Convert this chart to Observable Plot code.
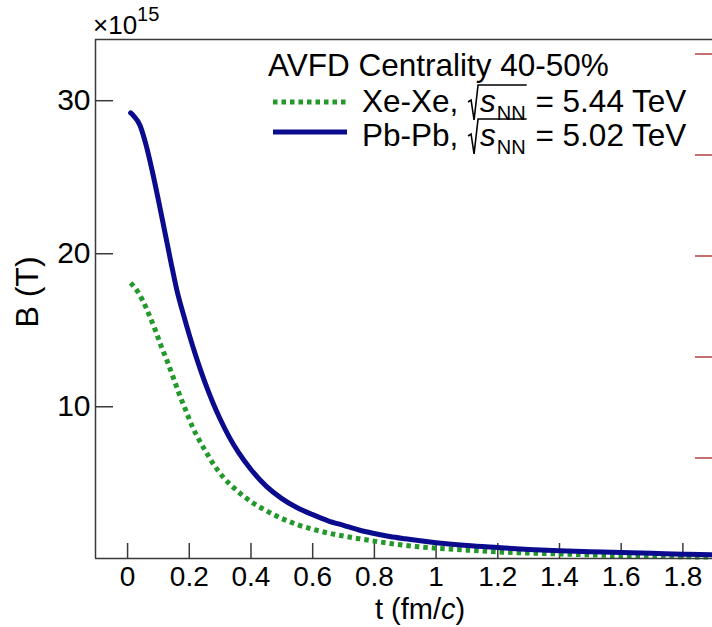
<!DOCTYPE html>
<html><head><meta charset="utf-8">
<script src="https://cdn.jsdelivr.net/npm/d3@7"></script>
<script src="https://cdn.jsdelivr.net/npm/@observablehq/plot@0.6"></script>
<style>
html,body{margin:0;padding:0;background:#fff;}
#chart{position:relative;width:712px;height:627px;overflow:hidden;}
</style></head><body><div id="chart"></div>
<script>
// ---- data (B in units of 1e15 T, t in fm/c) ----
const tPb = [0.01,0.02,0.04,0.06,0.08,0.10,0.12,0.14,0.16,0.18,0.20,0.22,0.24,0.26,0.28,0.30,0.33,0.36,0.40,0.45,0.50,0.55,0.60,0.65,0.70,0.75,0.80,0.85,0.90,1.00,1.10,1.20,1.30,1.40,1.50,1.60,1.70,1.80,1.90];
const bPb = [29.2,29.0,28.4,27.1,25.4,23.5,21.5,19.5,17.6,16.1,14.7,13.4,12.2,11.1,10.1,9.2,8.0,7.0,5.9,4.8,4.0,3.4,2.95,2.55,2.25,1.95,1.72,1.52,1.37,1.12,0.93,0.80,0.68,0.59,0.53,0.47,0.42,0.37,0.33];
const tXe = [0.01,0.03,0.05,0.07,0.09,0.11,0.13,0.15,0.17,0.19,0.21,0.23,0.25,0.28,0.31,0.35,0.40,0.45,0.50,0.55,0.60,0.65,0.70,0.75,0.80,0.90,1.00,1.10,1.20,1.30,1.40,1.50,1.60,1.70,1.80,1.90];
const bXe = [18.1,17.6,16.9,16.0,15.0,13.9,12.9,11.8,10.7,9.7,8.7,7.9,7.2,6.2,5.4,4.6,3.8,3.2,2.7,2.3,2.0,1.75,1.55,1.38,1.22,0.94,0.76,0.63,0.52,0.44,0.38,0.32,0.27,0.23,0.20,0.18];
const xTicks = [0,0.2,0.4,0.6,0.8,1.0,1.2,1.4,1.6,1.8];
const yTicks = [10,20,30];
const xDomain = [-0.104,1.896];
const yDomain = [0.085,34];
const legendTitle = "AVFD Centrality 40-50%";
const seriesLabels = [
  {sys:"Xe-Xe, ", energy:" = 5.44 TeV"},
  {sys:"Pb-Pb, ", energy:" = 5.02 TeV"}
];
const colXe = "#23982b", colPb = "#0b0b8e";

// ---- layout ----
const W=712, H=627, mL=95, mT=39, mB=69, mR=0;
const plotW = W-mL-mR, plotH = H-mT-mB;
const font = "'Liberation Sans', Arial, Helvetica, sans-serif";

const xe = tXe.map((t,i)=>({t, B:bXe[i]}));
const pb = tPb.map((t,i)=>({t, B:bPb[i]}));
const axisCol = "#3a3a3a";

const plot = Plot.plot({
  width:W, height:H, marginLeft:mL, marginTop:mT, marginBottom:mB, marginRight:mR,
  style:{fontFamily:font, background:"#fff", color:"#000", overflow:"visible"},
  x:{domain:xDomain}, y:{domain:yDomain},
  marks:[
    Plot.axisX({ticks:xTicks, tickSize:0, tickPadding:8, fontSize:28, fill:"#000", tickFormat:d=>String(+d.toFixed(1)), label:null}),
    Plot.axisY({ticks:yTicks, tickSize:0, tickPadding:5, fontSize:30, fill:"#000", label:null}),
    Plot.tickX(xTicks,{x:d=>d, insetTop:plotH-15, stroke:axisCol, strokeWidth:1.5}),
    Plot.tickY(yTicks,{y:d=>d, insetRight:plotW-18, stroke:axisCol, strokeWidth:1.5}),
    Plot.line(xe,{x:"t", y:"B", stroke:colXe, strokeWidth:5, strokeDasharray:"4.5,4", strokeLinecap:"butt", strokeLinejoin:"miter", curve:"monotone-x"}),
    Plot.line(pb,{x:"t", y:"B", stroke:colPb, strokeWidth:5, curve:"monotone-x"}),
    Plot.ruleX([xDomain[0]],{stroke:axisCol, strokeWidth:1.5}),
    Plot.ruleY([yDomain[0]],{stroke:axisCol, strokeWidth:1.5}),
    Plot.ruleY([yDomain[1]],{stroke:axisCol, strokeWidth:1.5})
  ]
});
document.getElementById("chart").appendChild(plot);

const svg = d3.select(plot);
const g = svg.append("g").attr("font-family", font).attr("fill","#000").attr("text-anchor","start");

// sequential rich text helper
function rich(x, y, parts){
  let cx = x; const out=[];
  for(const p of parts){
    const el = g.append("text").attr("x",cx).attr("y",y+(p.dy||0))
      .attr("text-anchor","start").attr("font-size",p.size).text(p.t);
    if(p.italic) el.attr("font-style","italic");
    const w = el.node().getComputedTextLength();
    out.push({x0:cx,x1:cx+w});
    cx += w + (p.gap||0);
  }
  return out;
}

// x10^15
rich(93, 34, [{t:"×10", size:26},{t:"15", size:20, dy:-13}]);

// axis titles
g.append("text").attr("transform","translate(38,292) rotate(-90)")
  .attr("text-anchor","middle").attr("font-size",32).text("B (T)");
const xt = g.append("text").attr("x",420).attr("y",619).attr("text-anchor","middle").attr("font-size",29);
xt.append("tspan").text("t (fm/");
xt.append("tspan").attr("font-style","italic").text("c");
xt.append("tspan").text(")");

// legend
const fs = 31.5;
g.append("text").attr("x",268).attr("y",76).attr("font-size",fs).text(legendTitle);
const rowsY = [112,146];
const lineY = [102,132];
const cols = [colXe,colPb];
rowsY.forEach((yb,i)=>{
  const ln = g.append("line").attr("x1",273).attr("x2",347).attr("y1",lineY[i]).attr("y2",lineY[i])
    .attr("stroke",cols[i]).attr("stroke-width",5);
  if(i===0) ln.attr("stroke-dasharray","4.5,4");
  const a = rich(362, yb, [{t:seriesLabels[i].sys, size:fs}]);
  const rx = a[0].x1 + 1;
  const sx = rx + 12;
  const b = rich(sx, yb, [{t:"s", size:fs, italic:true, gap:1},{t:"NN", size:20, dy:8}]);
  const xEnd = b[1].x1 + 1;
  g.append("path").attr("fill","none").attr("stroke","#000").attr("stroke-width",1.6)
    .attr("d",`M${rx},${yb-10} L${rx+3},${yb-12} L${rx+6},${yb+8} L${rx+10},${yb-27} L${xEnd},${yb-27}`);
  rich(xEnd, yb, [{t:seriesLabels[i].energy, size:fs}]);
});

// tick marks of the neighbouring panel (cropped at right edge)
for(let k=0;k<5;k++){
  const yy = 54 + k*101;
  g.append("line").attr("x1",695).attr("x2",712).attr("y1",yy).attr("y2",yy)
    .attr("stroke","#b04040").attr("stroke-width",1.5);
}
</script></body></html>
